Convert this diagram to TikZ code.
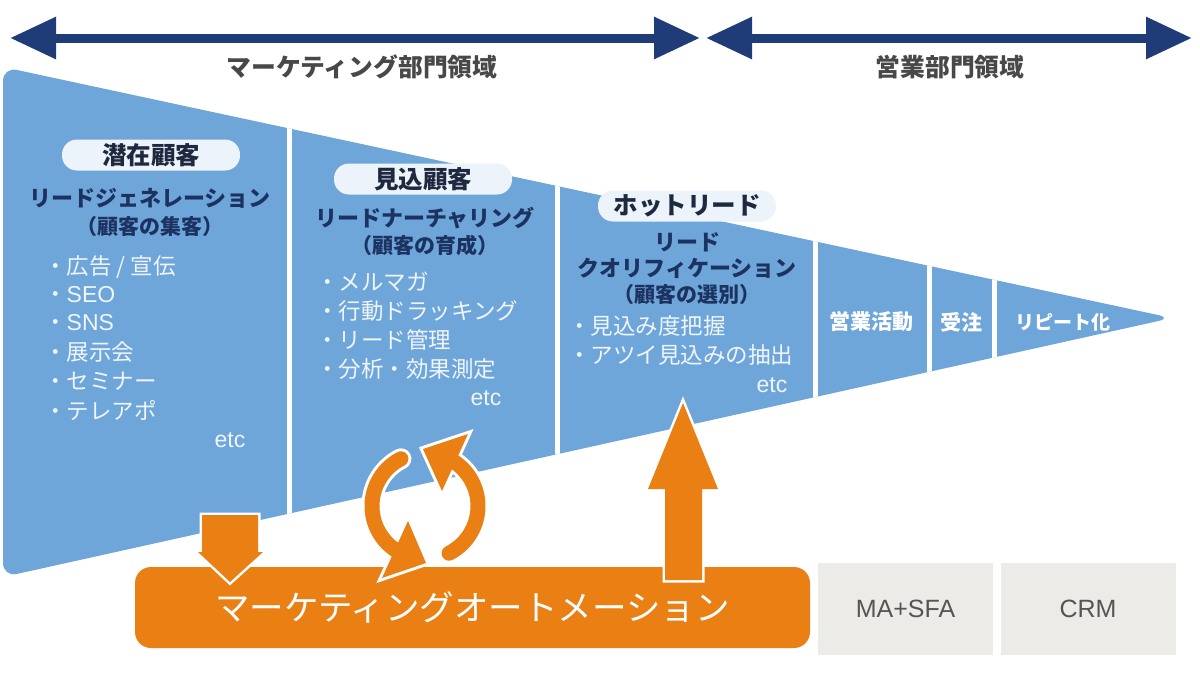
\documentclass[tikz,border=0pt]{standalone}
\usepackage{fontspec}
\setmainfont{Liberation Sans}
\newfontfamily\jp{Noto Sans CJK JP}
\usetikzlibrary{arrows.meta}
\definecolor{funnelblue}{RGB}{111,166,218}
\definecolor{navy}{RGB}{31,60,120}
\definecolor{toptext}{RGB}{72,72,72}
\definecolor{pillfill}{RGB}{236,243,250}
\definecolor{pilltext}{RGB}{30,40,62}
\definecolor{navytext}{RGB}{28,50,96}
\definecolor{bullet}{RGB}{240,245,252}
\definecolor{maorange}{RGB}{234,128,20}
\definecolor{boxgray}{RGB}{236,235,232}
\definecolor{graytext}{RGB}{85,85,85}
\newcommand\myfs[1]{\fontsize{#1}{#1}\selectfont}
\begin{document}
\begin{tikzpicture}[x=1pt,y=-1pt,
  toparrow/.style={draw=navy, line width=9pt, {Triangle[width=40pt,length=46pt]}-{Triangle[width=40pt,length=46pt]}},
  lbl/.style={font=\jp\bfseries\myfs{24.8}, text=toptext, inner sep=0pt},
  pill/.style={fill=pillfill, rounded corners=15pt, minimum width=178pt, minimum height=31pt, inner sep=0pt, font=\jp\bfseries\myfs{24.5}, text=pilltext},
  headtxt/.style={font=\jp\bfseries\myfs{22}, text=navytext, inner sep=0pt},
  subtxt/.style={font=\jp\bfseries\myfs{21}, text=navytext, inner sep=0pt},
  bul/.style={anchor=west, font=\jp\myfs{22.5}, text=bullet, inner sep=0pt},
  etcs/.style={font=\myfs{23}, text=bullet, inner sep=0pt},
  stage/.style={font=\jp\bfseries\myfs{21}, text=white, inner sep=0pt},
  mabox/.style={fill=maorange, rounded corners=16pt, minimum width=675pt, minimum height=81pt, font=\jp\myfs{34.5}, text=white},
  graybox/.style={fill=boxgray, minimum width=175pt, minimum height=92pt, font=\myfs{25}, text=graytext},
  oarrow/.style={fill=maorange, preaction={draw=white, line width=5pt, line join=miter}},
  ringwhite/.style={draw=white, line width=21pt, line cap=round},
  ringorange/.style={draw=maorange, line width=15pt, line cap=round}
]
\useasboundingbox (0,0) rectangle (1200,675);

% top arrows
\coordinate (mL) at (10,38);
\coordinate (mR) at (700,38);
\coordinate (sL) at (706,38);
\coordinate (sR) at (1192,38);
\draw[toparrow] (mL) -- (mR);
\draw[toparrow] (sL) -- (sR);
\node[lbl] (mlabel) at (362,67) {マーケティング部門領域};
\node[lbl] (slabel) at (950,67) {営業部門領域};

% funnel
\fill[funnelblue, rounded corners=14pt] (3,67) -- (1172,318) -- (3,577) -- cycle;
\begin{scope}
\clip[rounded corners=14pt] (3,67) -- (1172,318) -- (3,577) -- cycle;
\foreach \x in {289,557,815,929,994} \draw[white, line width=5pt] (\x,0) -- (\x,675);
\end{scope}

% column 1
\node[pill] (p1) at (151,155) {潜在顧客};
\node[headtxt] (h1) at (150,198) {リードジェネレーション};
\node[subtxt] (s1) at (150,227) {（顧客の集客）};
\node[bul] (b11) at (44,267) {・広告 / 宣伝};
\node[bul] (b12) at (44,295) {・{\rmfamily\myfs{23}SEO}};
\node[bul] (b13) at (44,323) {・{\rmfamily\myfs{23}SNS}};
\node[bul] (b14) at (44,352) {・展示会};
\node[bul] (b15) at (44,381) {・セミナー};
\node[bul] (b16) at (44,410) {・テレアポ};
\node[etcs] (e1) at (230,440) {etc};

% column 2
\node[pill] (p2) at (423,179) {見込顧客};
\node[headtxt] (h2) at (425,218) {リードナーチャリング};
\node[subtxt] (s2) at (425,245) {（顧客の育成）};
\node[bul] (b21) at (316,282) {・メルマガ};
\node[bul] (b22) at (316,311) {・行動ドラッキング};
\node[bul] (b23) at (316,340) {・リード管理};
\node[bul] (b24) at (316,369) {・分析・効果測定};
\node[etcs] (e2) at (486,398) {etc};

% column 3
\node[pill] (p3) at (687,206) {ホットリード};
\node[headtxt] (h3a) at (687,242) {リード};
\node[headtxt] (h3b) at (687,268) {クオリフィケーション};
\node[subtxt] (s3) at (687,295) {（顧客の選別）};
\node[bul] (b31) at (568,326) {・見込み度把握};
\node[bul] (b32) at (568,355) {・アツイ見込みの抽出};
\node[etcs] (e3) at (772,385) {etc};

% sales stages
\node[stage] (st1) at (871,322) {営業活動};
\node[stage] (st2) at (961,322) {受注};
\node[stage, font=\jp\bfseries\myfs{19}] (st3) at (1063,322) {リピート化};

% bottom boxes
\node[mabox] (ma) at (472.5,607.5) {マーケティングオートメーション};
\node[graybox] (sfa) at (905.5,609) {MA+SFA};
\node[graybox] (crm) at (1088,609) {CRM};

% orange block arrows
\fill[oarrow] (202,515) -- (258,515) -- (258,552) -- (263,552) -- (230,582) -- (198,552) -- (202,552) -- cycle;
\fill[oarrow] (665,580) -- (665,489) -- (648,489) -- (683,403) -- (718,489) -- (702,489) -- (702,580) -- cycle;

% cycle arrows: white outline pass
\draw[ringwhite] plot[domain=-117:-237, samples=40] ({425+53*cos(\x)},{506+53*sin(\x)});
\draw[ringwhite] plot[domain=63:-57, samples=40] ({425+53*cos(\x)},{506+53*sin(\x)});
\filldraw[white, line width=6pt, line join=miter] (408,521) -- (426,563) -- (382,578) -- cycle;
\filldraw[white, line width=6pt, line join=miter] (442,491) -- (423,449) -- (468,434) -- cycle;
% orange pass
\draw[ringorange] plot[domain=-117:-237, samples=40] ({425+53*cos(\x)},{506+53*sin(\x)});
\draw[ringorange] plot[domain=63:-57, samples=40] ({425+53*cos(\x)},{506+53*sin(\x)});
\fill[maorange] (408,521) -- (426,563) -- (382,578) -- cycle;
\fill[maorange] (442,491) -- (423,449) -- (468,434) -- cycle;
\end{tikzpicture}
\end{document}
